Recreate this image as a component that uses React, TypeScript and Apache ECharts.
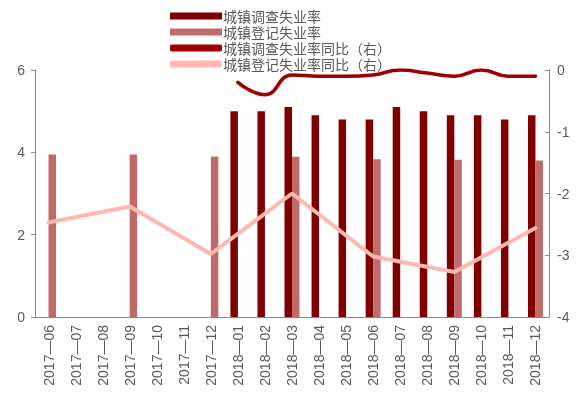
import React, { useEffect, useRef } from "react";
import * as echarts from "echarts";

const categories = [
  "2017—06", "2017—07", "2017—08", "2017—09", "2017—10", "2017—11", "2017—12",
  "2018—01", "2018—02", "2018—03", "2018—04", "2018—05", "2018—06", "2018—07",
  "2018—08", "2018—09", "2018—10", "2018—11", "2018—12",
];
const surveyRate = [null, null, null, null, null, null, null,
  5.0, 5.0, 5.1, 4.9, 4.8, 4.8, 5.1, 5.0, 4.9, 4.9, 4.8, 4.9];
const registeredRate = [3.95, null, null, 3.95, null, null, 3.9,
  null, null, 3.89, null, null, 3.83, null, null, 3.82, null, null, 3.8];
const surveyYoY = [null, null, null, null, null, null, null,
  -0.2, -0.4, -0.08, -0.1, -0.1, -0.08, 0.0, -0.05, -0.1, 0.0, -0.1, -0.1];
const registeredYoY = [-2.47, null, null, -2.21, null, null, -2.98,
  null, null, -2.0, null, null, -3.02, null, null, -3.27, null, null, -2.56];

const names = ["城镇调查失业率", "城镇登记失业率", "城镇调查失业率同比（右）", "城镇登记失业率同比（右）"];

export default function App() {
  const ref = useRef<HTMLDivElement>(null);
  useEffect(() => {
    const chart = echarts.init(ref.current!, null, { renderer: "svg" });
    const grey = "#595959";
    chart.setOption({
      animation: false,
      textStyle: { fontFamily: "Noto Sans CJK SC" },
      legend: {
        orient: "vertical",
        left: 165,
        top: 4,
        itemWidth: 52,
        itemHeight: 7,
        itemGap: 2,
        textStyle: { fontSize: 14, color: grey, padding: [0, 0, 0, -4] },
        data: names.map((n, i) => ({ name: n, icon: i < 2 ? "rect" : "roundRect" })),
      },
      grid: { left: 35, right: 37, top: 70, bottom: 79 },
      xAxis: {
        type: "category",
        data: categories,
        axisLine: { lineStyle: { color: "#888" } },
        axisTick: { alignWithLabel: false, lineStyle: { color: "#888" }, length: 5 },
        axisLabel: { rotate: 90, color: grey, fontSize: 14, fontFamily: "Liberation Sans", interval: 0 },
      },
      yAxis: [
        {
          type: "value", min: 0, max: 6, interval: 2,
          splitLine: { show: false },
          axisLine: { show: true, lineStyle: { color: "#888" } },
          axisTick: { show: true, lineStyle: { color: "#888" }, length: 4 },
          axisLabel: { color: grey, fontSize: 14, fontFamily: "Liberation Sans", margin: 10 },
        },
        {
          type: "value", min: -4, max: 0, interval: 1,
          splitLine: { show: false },
          axisLine: { show: true, lineStyle: { color: "#888" } },
          axisTick: { show: true, inside: true, lineStyle: { color: "#888" }, length: 4 },
          axisLabel: { color: grey, fontSize: 14, fontFamily: "Liberation Sans", margin: 8 },
        },
      ],
      series: [
        {
          name: names[0], type: "bar", data: surveyRate, barWidth: 7.5, barGap: "0%",
          itemStyle: { color: "#800000" },
        },
        {
          name: names[1], type: "bar", data: registeredRate, barWidth: 7.5, barGap: "0%",
          itemStyle: { color: "#C06A6A" },
        },
        {
          name: names[2], type: "line", yAxisIndex: 1, data: surveyYoY, smooth: true,
          showSymbol: false, symbol: "none",
          lineStyle: { color: "#9C0000", width: 3.5, cap: "round" },
          itemStyle: { color: "#9C0000" },
        },
        {
          name: names[3], type: "line", yAxisIndex: 1, data: registeredYoY, connectNulls: true,
          showSymbol: false, symbol: "none",
          lineStyle: { color: "#FFB8B0", width: 4, cap: "round" },
          itemStyle: { color: "#FFB8B0" },
        },
      ],
    });
    return () => chart.dispose();
  }, []);
  return <div ref={ref} style={{ position: "fixed", left: 0, top: 0, width: 586, height: 396 }} />;
}
